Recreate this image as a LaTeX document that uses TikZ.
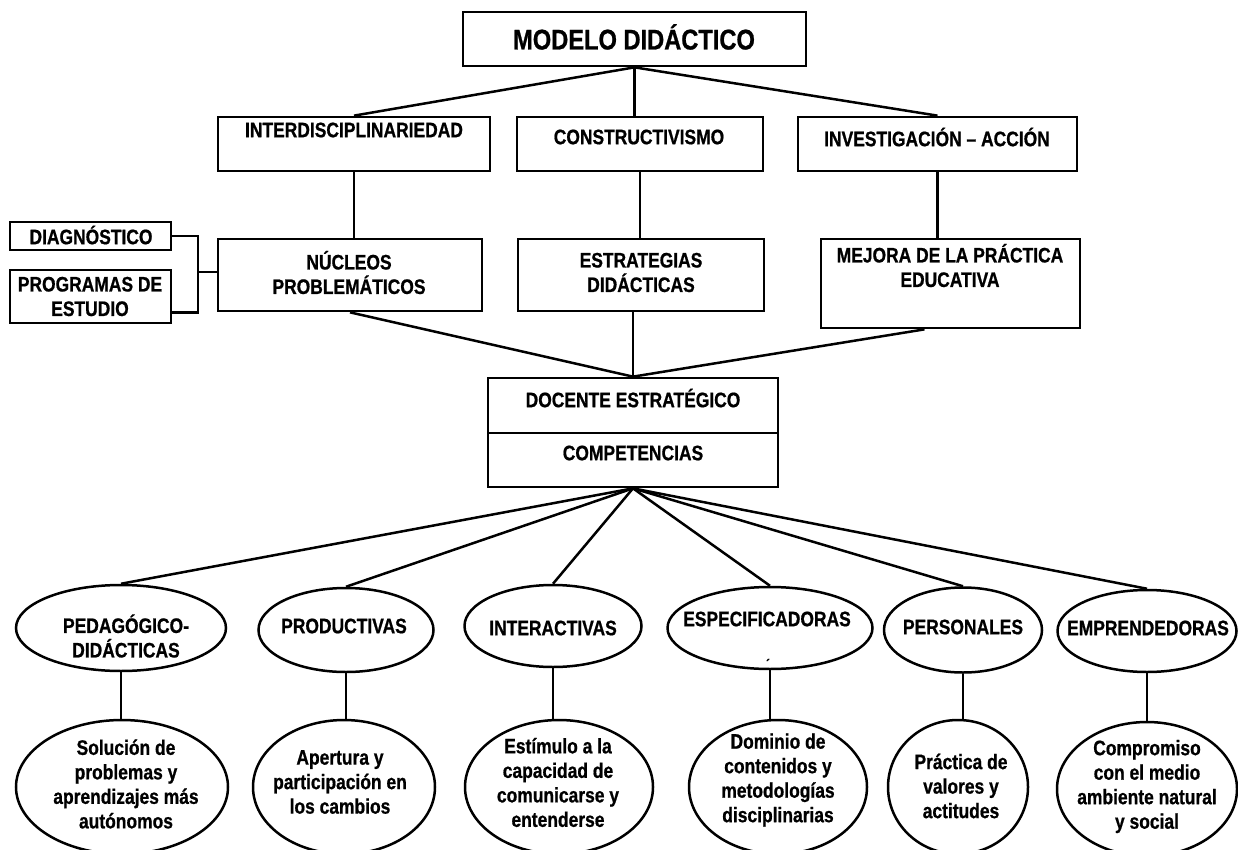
\documentclass[tikz,border=0pt]{standalone}
\usepackage{fontspec}
\setmainfont[FakeStretch=0.83, BoldFeatures={FakeBold=0.8}]{Liberation Sans}
\usetikzlibrary{shapes.geometric}

\tikzset{
  caja/.style={draw, line width=2.7pt, inner sep=0pt},
  ovalo/.style={draw, ellipse, line width=2.5pt, inner sep=0pt},
  texto/.style={align=center, inner sep=0pt, font=\bfseries\fontsize{21}{24.5}\selectfont},
  enlace/.style={line width=2.5pt}
}

\begin{document}
\begin{tikzpicture}[x=1pt, y=-1pt]
    \useasboundingbox (0,0) rectangle (1238,850);

    % cajas de arriba
    \node[caja, minimum width=343pt, minimum height=54pt] (modelo) at (634.5,39) {};
    \node[texto, font=\bfseries\fontsize{28.5}{32}\selectfont] (modelo-t) at (634,37) {MODELO DIDÁCTICO};

    \node[caja, minimum width=272pt, minimum height=54pt] (inter) at (354,144) {};
    \node[texto] (inter-t) at (354,130) {INTERDISCIPLINARIEDAD};
    \node[caja, minimum width=246pt, minimum height=54pt] (constr) at (640,144) {};
    \node[texto] (constr-t) at (639,137) {CONSTRUCTIVISMO};
    \node[caja, minimum width=279pt, minimum height=54pt] (invest) at (937.5,144) {};
    \node[texto] (invest-t) at (937,137) {INVESTIGACIÓN – ACCIÓN};

    \node[caja, minimum width=264pt, minimum height=72pt] (nucleos) at (350,275) {};
    \node[texto] (nucleos-t) at (349,272.5) {NÚCLEOS\\PROBLEMÁTICOS};
    \node[caja, minimum width=246pt, minimum height=72pt] (estr) at (641,275) {};
    \node[texto] (estr-t) at (641,272.5) {ESTRATEGIAS\\DIDÁCTICAS};
    \node[caja, minimum width=259pt, minimum height=89pt] (mejora) at (950.5,283.5) {};
    \node[texto] (mejora-t) at (950,265.5) {MEJORA DE LA PRÁCTICA\\EDUCATIVA};

    \node[caja, minimum width=161pt, minimum height=28pt] (diag) at (90.5,236) {};
    \node[texto] (diag-t) at (91,235) {DIAGNÓSTICO};
    \node[caja, minimum width=161pt, minimum height=53pt] (prog) at (90.5,296.5) {};
    \node[texto] (prog-t) at (90,296.5) {PROGRAMAS DE\\ESTUDIO};

    \node[caja, minimum width=290pt, minimum height=55pt] (docente) at (633,405.5) {};
    \node[texto] (docente-t) at (633,398) {DOCENTE ESTRATÉGICO};
    \node[caja, minimum width=290pt, minimum height=54pt] (comp) at (633,460) {};
    \node[texto] (comp-t) at (633,453) {COMPETENCIAS};

    % competencias
    \node[ovalo, minimum width=210pt, minimum height=86pt] (pedag) at (121,628) {};
    \node[texto] (pedag-t) at (126,636) {PEDAGÓGICO-\\DIDÁCTICAS};
    \node[ovalo, minimum width=175pt, minimum height=84pt] (produc) at (346,630) {};
    \node[texto] (produc-t) at (344,626) {PRODUCTIVAS};
    \node[ovalo, minimum width=177pt, minimum height=82pt] (interac) at (553,626) {};
    \node[texto] (interac-t) at (553,628) {INTERACTIVAS};
    \node[ovalo, minimum width=205pt, minimum height=82pt] (espec) at (770,628) {};
    \node[texto] (espec-t) at (767,619) {ESPECIFICADORAS};
    \node[texto, font=\bfseries\fontsize{14}{16}\selectfont] (acento) at (768,664) {´};
    \node[ovalo, minimum width=158pt, minimum height=85pt] (person) at (963,630) {};
    \node[texto] (person-t) at (963,627) {PERSONALES};
    \node[ovalo, minimum width=179pt, minimum height=82pt] (empren) at (1147,631) {};
    \node[texto] (empren-t) at (1148,628) {EMPRENDEDORAS};

    % fila de abajo
    \node[ovalo, minimum width=212pt, minimum height=134pt] (solucion) at (122,787) {};
    \node[texto] (solucion-t) at (126,784) {Solución de\\problemas y\\aprendizajes más\\autónomos};
    \node[ovalo, minimum width=182pt, minimum height=134pt] (apertura) at (344,787) {};
    \node[texto] (apertura-t) at (340,782) {Apertura y\\participación en\\los cambios};
    \node[ovalo, minimum width=188pt, minimum height=134pt] (estimulo) at (559,787) {};
    \node[texto] (estimulo-t) at (558,782.5) {Estímulo a la\\capacidad de\\comunicarse y\\entenderse};
    \node[ovalo, minimum width=178pt, minimum height=134pt] (dominio) at (778,787) {};
    \node[texto] (dominio-t) at (778,780) {Dominio de\\contenidos y\\metodologías\\disciplinarias};
    \node[ovalo, minimum width=140pt, minimum height=134pt] (practica) at (958,787) {};
    \node[texto] (practica-t) at (961,786) {Práctica de\\valores y\\actitudes};
    \node[ovalo, minimum width=180pt, minimum height=134pt] (compro) at (1147,789) {};
    \node[texto] (compro-t) at (1147,786.5) {Compromiso\\con el medio\\ambiente natural\\y social};

    % lineas
    \draw[enlace] (modelo.south) -- (inter.north);
    \draw[enlace] (modelo.south) -- (modelo.south |- constr.north);
    \draw[enlace] (modelo.south) -- (invest.north);
    \draw[enlace] (inter.south) -- (inter.south |- nucleos.north);
    \draw[enlace] (constr.south) -- (constr.south |- estr.north);
    \draw[enlace] (invest.south) -- (invest.south |- mejora.north);

    \coordinate (brk) at (198,272);
    \draw[enlace] (diag.east) -| (brk) |- ([yshift=-16pt]prog.east);
    \draw[enlace] (brk) -- (brk -| nucleos.west);

    \draw[enlace] (nucleos.south) -- (docente.north);
    \draw[enlace] (docente.north |- estr.south) -- (docente.north);
    \draw[enlace] ([xshift=-26pt]mejora.south) -- (docente.north);

    \draw[enlace] (comp.south) -- (pedag.north);
    \draw[enlace] (comp.south) -- (produc.north);
    \draw[enlace] (comp.south) -- (interac.north);
    \draw[enlace] (comp.south) -- (espec.north);
    \draw[enlace] (comp.south) -- (person.north);
    \draw[enlace] (comp.south) -- (empren.north);

    \draw[enlace] (pedag.south) -- (pedag.south |- solucion.north);
    \draw[enlace] (produc.south) -- (produc.south |- apertura.north);
    \draw[enlace] (interac.south) -- (interac.south |- estimulo.north);
    \draw[enlace] (espec.south) -- (espec.south |- dominio.north);
    \draw[enlace] (person.south) -- (person.south |- practica.north);
    \draw[enlace] (empren.south) -- (empren.south |- compro.north);
\end{tikzpicture}
\end{document}
